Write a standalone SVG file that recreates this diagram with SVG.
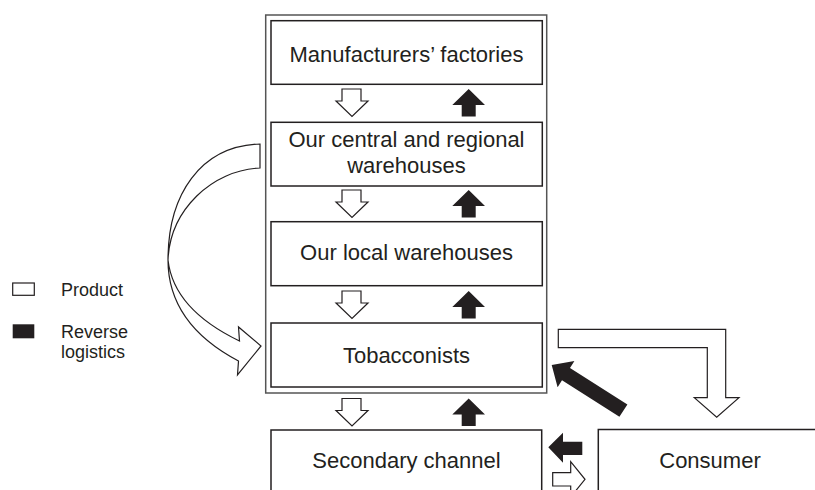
<svg xmlns="http://www.w3.org/2000/svg" width="815" height="490" viewBox="0 0 815 490">
<defs>
<style>
.box{fill:#fff;stroke:#231f20;stroke-width:1.5}
.outer{fill:none;stroke:#555;stroke-width:1.5}
.hollow{fill:#fff;stroke:#231f20;stroke-width:1.2;stroke-linejoin:miter}
.solid{fill:#231f20;stroke:none}
.t{font-family:"Liberation Sans",Arial,sans-serif;font-size:22px;fill:#231f20;text-anchor:middle}
.lg{font-family:"Liberation Sans",Arial,sans-serif;font-size:18px;fill:#231f20}
</style>
<path id="down" d="M342,0 H361 V12 H368 L352,27.5 L336,12 H342 Z"/>
<path id="up" d="M468.7,0 L485,16 H475.7 V27.5 H461.7 V16 H452.3 Z"/>
</defs>
<rect width="815" height="490" fill="#fff"/>
<rect class="outer" x="265.7" y="15" width="281" height="378"/>
<g id="node-manufacturers">
<rect class="box" x="271" y="20.7" width="271.3" height="63.6"/>
<text class="t" x="406.5" y="61.7">Manufacturers’ factories</text>
</g>
<g id="node-central">
<rect class="box" x="271" y="122.3" width="271.3" height="63.7"/>
<text class="t" x="406.5" y="146.7">Our central and regional</text>
<text class="t" x="406.5" y="173.3">warehouses</text>
</g>
<g id="node-local">
<rect class="box" x="271" y="221.7" width="271.3" height="64"/>
<text class="t" x="406.5" y="260">Our local warehouses</text>
</g>
<g id="node-tobacconists">
<rect class="box" x="271" y="323" width="271.3" height="64"/>
<text class="t" x="406.5" y="362.7">Tobacconists</text>
</g>
<g id="node-secondary">
<rect class="box" x="271" y="430" width="270.7" height="80"/>
<text class="t" x="406.5" y="468">Secondary channel</text>
</g>
<g id="node-consumer">
<rect class="box" x="598.3" y="429.5" width="240" height="80"/>
<text class="t" x="710" y="468">Consumer</text>
</g>
<g id="connectors">
<use href="#down" class="hollow" transform="translate(0,89)"/>
<use href="#up" class="solid" transform="translate(0,89)"/>
<use href="#down" class="hollow" transform="translate(0,190)"/>
<use href="#up" class="solid" transform="translate(0,190)"/>
<use href="#down" class="hollow" transform="translate(0,291)"/>
<use href="#up" class="solid" transform="translate(0,291)"/>
<use href="#down" class="hollow" transform="translate(0,398.5)"/>
<use href="#up" class="solid" transform="translate(0,398.5)"/>
<path class="hollow" d="M260,144 C200,146 168,195 168,260 C168,305 195,338 238.5,361 L237.5,375 L261,346 L238.5,327 L239.5,341 C200,322 172,295 168,260 C170,210 212,170 260,168 Z"/>
<path class="hollow" d="M558.3,329.3 H725.7 V397.7 H739 L716.7,417.3 L694.3,397.7 H707.3 V347.7 H558.3 Z"/>
<polygon class="solid" points="551.7,365 574.4,360.9 570,367.9 627.4,404.4 619.4,416.8 562,380.3 557.6,387.3"/>
<polygon class="solid" points="548.3,447.3 563,432.7 563,441.7 582.3,441.7 582.3,455 563,455 563,462.7"/>
<path class="hollow" d="M552.7,472.7 H570.7 V461.7 L585,479.3 L570.7,497 V486 H552.7 Z"/>
</g>
<g id="legend">
<rect x="12.7" y="283" width="21.6" height="12.3" fill="#fff" stroke="#231f20" stroke-width="1.2"/>
<text class="lg" x="61" y="296">Product</text>
<rect x="12.7" y="324.3" width="21.6" height="14" fill="#231f20"/>
<text class="lg" x="61" y="338.3">Reverse</text>
<text class="lg" x="61" y="358">logistics</text>
</g>
</svg>
